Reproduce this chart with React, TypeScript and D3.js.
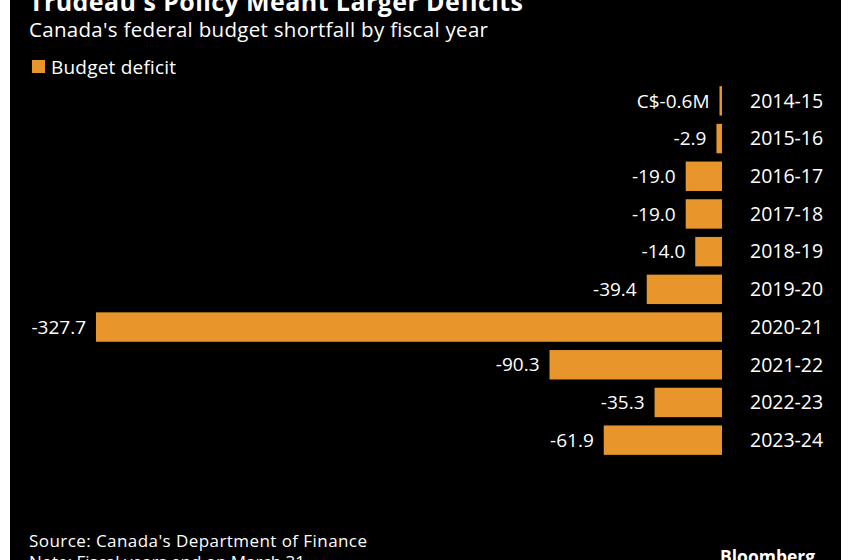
import React from "react";
import * as d3 from "d3";

const categories = ["2014-15","2015-16","2016-17","2017-18","2018-19","2019-20","2020-21","2021-22","2022-23","2023-24"];
const deficits = [-0.6,-2.9,-19.0,-19.0,-14.0,-39.4,-327.7,-90.3,-35.3,-61.9];
const valueLabels = ["C$-0.6M","-2.9","-19.0","-19.0","-14.0","-39.4","-327.7","-90.3","-35.3","-61.9"];

const W = 850, H = 560;
const FONT = "'Open Sans', 'Noto Sans', sans-serif";
const ORANGE = "#e8962b";

export default function App() {
  const x = d3.scaleLinear().domain([-327.7, 0]).range([96, 722]);
  const y = d3.scaleBand<string>().domain(categories).range([82, 459]).paddingInner(0.22).paddingOuter(0.11);
  return (
    <svg width={W} height={H} style={{ position: "absolute", left: 0, top: 0, background: "#fff" }}>
      <rect x={10} y={0} width={831} height={H} fill="#000" />
      <text x={29} y={11} fill="#fff" fontFamily={FONT} fontWeight="bold" fontSize={25} textLength={494}>Trudeau's Policy Meant Larger Deficits</text>
      <text x={29} y={37} fill="#fff" fontFamily={FONT} fontSize={20.5} textLength={459}>Canada's federal budget shortfall by fiscal year</text>
      <rect x={32} y={60} width={13} height={13} fill={ORANGE} />
      <text x={51} y={74} fill="#fff" fontFamily={FONT} fontSize={19} textLength={125}>Budget deficit</text>
      {categories.map((c, i) => {
        const v = deficits[i];
        const x0 = x(v);
        const w = Math.max(x(0) - x0, 2.5);
        const bx = x(0) - w;
        const yy = y(c)!;
        const cy = yy + y.bandwidth() / 2;
        return (
          <g key={c}>
            <rect x={bx} y={yy} width={w} height={y.bandwidth()} fill={ORANGE} />
            <text x={bx - 10} y={cy} dy="0.35em" textAnchor="end" fill="#fff" fontFamily={FONT} fontSize={19}>{valueLabels[i]}</text>
            <text x={750} y={cy} dy="0.35em" fill="#fff" fontFamily={FONT} fontSize={19.5}>{c}</text>
          </g>
        );
      })}
      <text x={29} y={547} fill="#fff" fontFamily={FONT} fontSize={17} textLength={338}>Source: Canada's Department of Finance</text>
      <text x={29} y={568} fill="#fff" fontFamily={FONT} fontSize={17}>Note: Fiscal years end on March 31</text>
      <text x={720} y={563} fill="#fff" fontFamily={FONT} fontWeight="bold" fontSize={17.5}>Bloomberg</text>
    </svg>
  );
}
